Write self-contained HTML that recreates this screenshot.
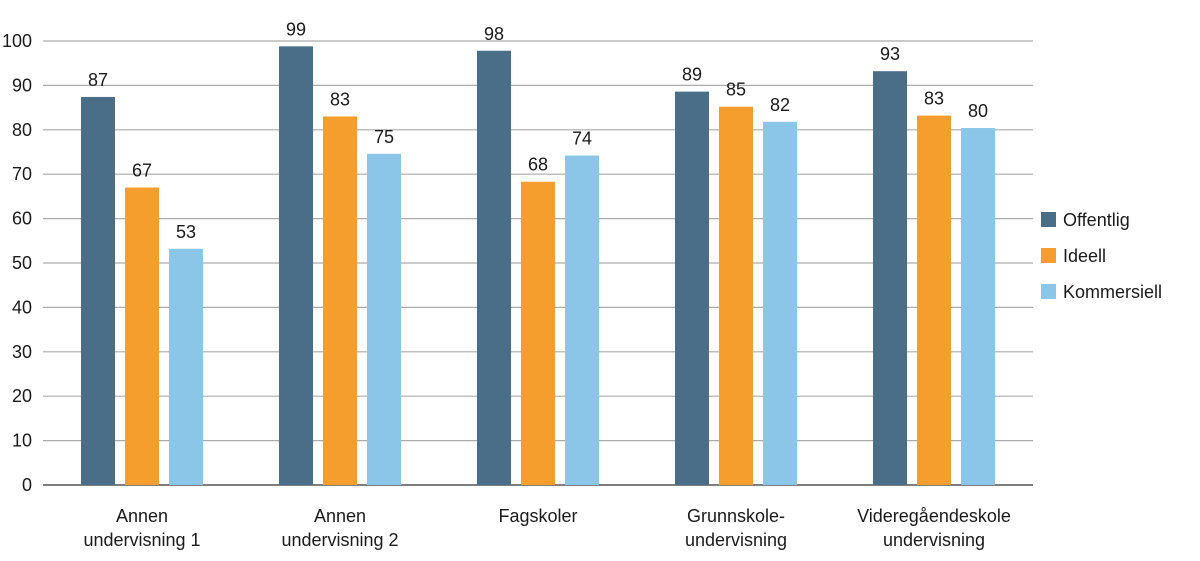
<!DOCTYPE html>
<html><head><meta charset="utf-8"><style>
html,body{margin:0;padding:0;background:#fff;width:1200px;height:561px;overflow:hidden}
svg text{font-family:"Liberation Sans",sans-serif;font-size:18px;fill:#1a1a1a}
</style></head><body>
<svg id="chart" width="1200" height="561"></svg>
<script>
const categories=[["Annen","undervisning 1"],["Annen","undervisning 2"],["Fagskoler"],["Grunnskole-","undervisning"],["Videregåendeskole","undervisning"]];
const seriesNames=["Offentlig","Ideell","Kommersiell"];
const offentlig=[87.4,98.8,97.8,88.6,93.2];
const ideell=[67,83,68.3,85.2,83.2];
const kommersiell=[53.2,74.6,74.2,81.8,80.4];
const yTicks=[0,10,20,30,40,50,60,70,80,90,100];
const colors=["#4a6e87","#f59e2e","#8bc6e8"];
const series=[offentlig,ideell,kommersiell];
const svg=document.getElementById('chart');
const NS="http://www.w3.org/2000/svg";
const x0=43,x1=1033,yB=485,yT=41;
const y=v=>yB-(v/100)*(yB-yT);
const gw=(x1-x0)/categories.length;
function mk(t,a){const e=document.createElementNS(NS,t);for(const k in a)e.setAttribute(k,a[k]);svg.appendChild(e);return e;}
yTicks.forEach(t=>{
 const l=mk('line',{x1:x0,x2:x1,y1:y(t),y2:y(t),stroke:t===0?'#555':'#aaa','stroke-width':t===0?1.5:1.2});
 
 
 const tx=mk('text',{x:32,y:y(t)+6,'text-anchor':'end'});tx.textContent=t;
 
 
});
const bw=34,gap=10;
categories.forEach((c,i)=>{
 const cx=x0+gw*(i+0.5);
 series.forEach((s,j)=>{
  const bx=cx+(j-1)*(bw+gap)-bw/2;
  const r=mk('rect',{x:bx,y:y(s[i]),width:bw,height:yB-y(s[i]),fill:colors[j]});
  
  
  const t=mk('text',{x:bx+bw/2,y:y(s[i])-11,'text-anchor':'middle'});t.textContent=Math.round(s[i]);
  
  
 });
 c.forEach((ln,k)=>{
  const t=mk('text',{x:cx,y:522+k*24,'text-anchor':'middle'});t.textContent=ln;
  
  
 });
});
seriesNames.forEach((n,j)=>{
 const yy=212+j*36;
 const r=mk('rect',{x:1041,y:yy,width:15,height:15,fill:colors[j]});
 
 
 const t=mk('text',{x:1063,y:yy+14});t.textContent=n;
 
 
});
</script>
</body></html>
